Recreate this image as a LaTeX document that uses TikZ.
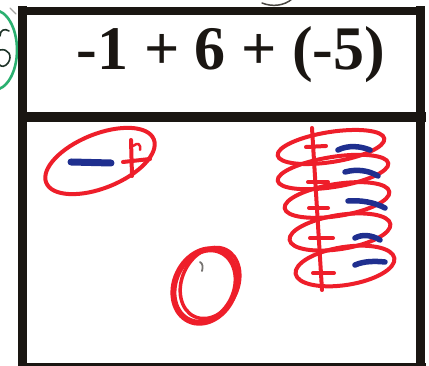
\documentclass[tikz,border=0pt]{standalone}
\usepackage{fontspec}
\setmainfont{Liberation Serif}
\definecolor{ink}{HTML}{1A1612}
\definecolor{redpen}{HTML}{EE1E2A}
\definecolor{bluepen}{HTML}{1F2F8F}
\definecolor{greenpen}{HTML}{2BB070}
\definecolor{darkpen}{HTML}{1E3328}
\tikzset{
  border/.style={draw=ink, line width=10pt, line cap=rect},
  redline/.style={draw=redpen, line width=4pt, line cap=round, line join=round},
  blueline/.style={draw=bluepen, line width=5.5pt, line cap=round},
  greenline/.style={draw=greenpen, line width=2.6pt},
  title/.style={font=\bfseries\fontsize{62}{62}\selectfont, text=ink, inner sep=0pt, anchor=base}
}
\begin{document}
\begin{tikzpicture}[x=1pt,y=1pt]
\useasboundingbox (0,0) rectangle (429,366);
\clip (0,0) rectangle (429,366);
\fill[white] (0,0) rectangle (429,366);
% green circled mark at left
\draw[greenline] (-6,316) ellipse [x radius=23, y radius=40];
\draw[draw=darkpen, line width=1.6pt, line cap=round] (9,335) .. controls (5,338) and (0,336) .. (0,330);
\draw[draw=darkpen, line width=1.6pt, line cap=round] (0,316) .. controls (8,318) and (13,310) .. (8,303) .. controls (5,299) and (1,299) .. (0,301);
% stray pen marks above
\draw[draw=ink!80, line width=1.5pt, line cap=round] (262,363) .. controls (272,359) and (284,360) .. (292,367);
\draw[draw=ink!40, line width=1.2pt, line cap=round] (10,358) -- (16,352);
% frame
\draw[border, line width=8.5pt] (22.5,355) -- (420.5,355);
\draw[border] (22.5,249) -- (420.5,249);
\draw[border] (22.5,-2) -- (420.5,-2);
\draw[border, line width=9pt] (22.5,355) -- (22.5,-2);
\draw[border, line width=9pt] (420.5,355) -- (420.5,-2);
% header text
\node[title] (expr) at (231,296) {-1 + 6 + (-5)};
% left ellipse with -1 and +1
\draw[redline] (100,205) ellipse [x radius=58, y radius=27, rotate=22];
\draw[redline] (131,226) -- (132,190);
\draw[redline] (123,204) -- (150,207);
\draw[redline, line width=2.5pt] (133,220) .. controls (138,224) and (141,222) .. (140,216);
\draw[blueline, line width=7pt] (71,204) -- (111,203);
% zero pair circle
\draw[draw=redpen, line width=6pt] (205,80) ellipse [x radius=38, y radius=30, rotate=65];
\draw[draw=redpen, line width=3.5pt] (210,83) ellipse [x radius=37, y radius=28, rotate=65];
\draw[draw=ink!60, line width=1.8pt, line cap=round] (200,104) .. controls (203,102) and (203,99) .. (202,95);
% stack of five ellipses
\draw[redline] (331,219) ellipse [x radius=54, y radius=15, rotate=9];
\draw[redline] (333,194) ellipse [x radius=56, y radius=15, rotate=9];
\draw[redline] (337,166) ellipse [x radius=53, y radius=16, rotate=9];
\draw[redline] (340,134) ellipse [x radius=51, y radius=17, rotate=9];
\draw[redline] (345,100) ellipse [x radius=50, y radius=19, rotate=9];
\draw[redline] (312,238) -- (322,76);
\draw[redline] (306,219) -- (326,220);
\draw[redline] (308,184) -- (328,184);
\draw[redline] (309,158) -- (328,158);
\draw[redline] (310,128) -- (333,128);
\draw[redline] (313,93) -- (334,93);
% negatives
\draw[blueline] (338,216) .. controls (348,221) and (360,220) .. (370,216);
\draw[blueline] (345,194) .. controls (356,197) and (368,196) .. (378,190);
\draw[blueline] (348,165) .. controls (360,166) and (374,164) .. (385,158);
\draw[blueline] (355,128) .. controls (362,132) and (372,131) .. (380,126);
\draw[blueline] (355,101) .. controls (364,105) and (375,105) .. (385,104);
\end{tikzpicture}
\end{document}
